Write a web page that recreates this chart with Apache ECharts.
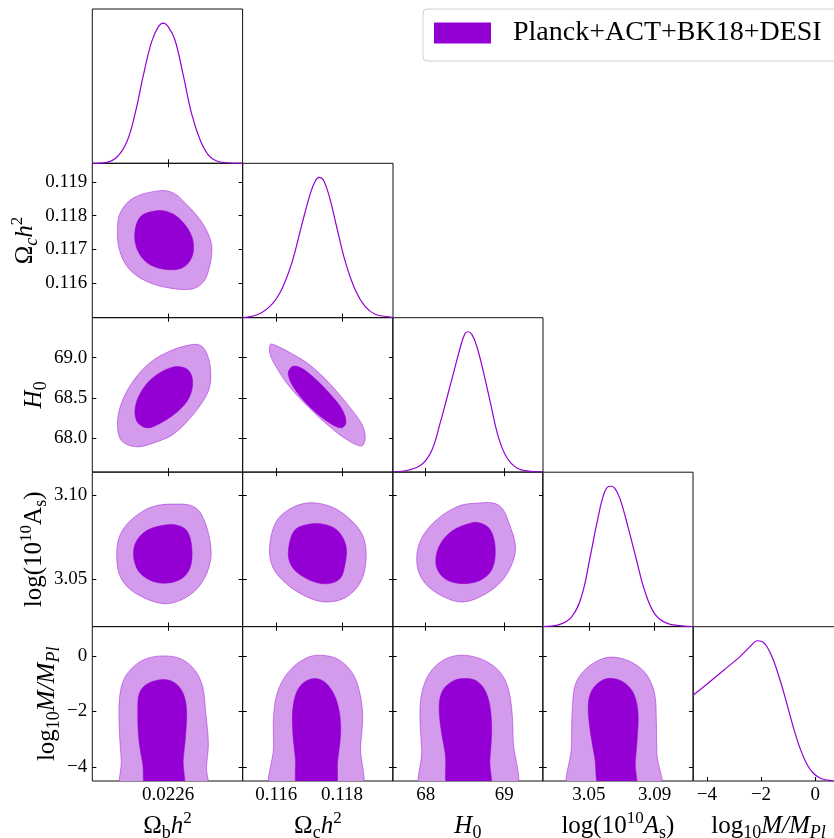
<!DOCTYPE html>
<html><head><meta charset="utf-8">
<script src="https://cdn.jsdelivr.net/npm/echarts@6/dist/echarts.min.js"></script>
<style>html,body{margin:0;padding:0;background:#fff}#c{width:834px;height:838px}</style>
</head><body><div id="c"></div>
<script>
const NAME = 'Planck+ACT+BK18+DESI';

// parameter axis ranges (same for column x and row y)
const rangeObh2 = [0.022398, 0.022798];
const rangeOmch2 = [0.11498, 0.11955];
const rangeH0 = [67.58, 69.495];
const rangeAs = [3.0218, 3.1134];
const rangeM = [-4.5, 1.05];

// tick values
const colTicks = [[0.0226], [0.116, 0.118], [68, 69], [3.05, 3.09], [-4, -2, 0]];
const rowTicks = [[], [0.116, 0.117, 0.118, 0.119], [68.0, 68.5, 69.0], [3.05, 3.10], [-4, -2, 0]];
const colDecimals = [4, 3, 0, 2, 0];
const rowDecimals = [0, 3, 1, 2, 0];

// 1D marginal posteriors (normalised to peak 1)
const pdf_obh2 = [[0.022398,0],[0.022436,0.007],[0.022463,0.043],[0.02249,0.154],[0.022512,0.356],[0.022534,0.629],[0.022556,0.867],[0.022574,0.974],[0.022587,1.0],[0.0226,0.974],[0.022618,0.879],[0.02264,0.629],[0.022662,0.356],[0.022685,0.166],[0.022707,0.059],[0.022729,0.016],[0.022756,0.004],[0.022798,0]];
const pdf_omch2 = [[0.11498,0],[0.115476,0.026],[0.115879,0.098],[0.116182,0.209],[0.116485,0.399],[0.116788,0.672],[0.117039,0.886],[0.117191,0.976],[0.117312,1.0],[0.117445,0.976],[0.117615,0.862],[0.117848,0.637],[0.1181,0.399],[0.118403,0.197],[0.118706,0.078],[0.119009,0.024],[0.119415,0.005],[0.11955,0]];
const pdf_H0 = [[67.58,0],[67.784,0.014],[67.953,0.055],[68.08,0.157],[68.186,0.352],[68.258,0.501],[68.356,0.708],[68.44,0.886],[68.496,0.981],[68.538,1.0],[68.589,0.981],[68.653,0.893],[68.738,0.708],[68.822,0.501],[68.929,0.245],[69.034,0.103],[69.162,0.029],[69.331,0.005],[69.495,0]];
const pdf_As = [[3.0218,0],[3.03136,0.012],[3.03946,0.069],[3.04555,0.218],[3.05085,0.504],[3.05469,0.73],[3.05877,0.933],[3.06181,0.998],[3.06322,1.0],[3.06547,0.99],[3.06888,0.912],[3.074,0.70],[3.07862,0.49],[3.0841,0.25],[3.09019,0.088],[3.09732,0.024],[3.10645,0.005],[3.1134,0]];
const pdf_M = [[-4.5,0.613],[-4.0,0.690],[-3.391,0.788],[-2.774,0.887],[-2.405,0.958],[-2.135,1.0],[-1.936,0.991],[-1.766,0.953],[-1.544,0.862],[-1.297,0.72],[-1.049,0.554],[-0.806,0.383],[-0.558,0.233],[-0.311,0.121],[-0.067,0.055],[0.18,0.021],[0.428,0.007],[0.697,0.0],[1.05,0]];

// 2D contours [x, y] (95% and 68%)
const ct_omch2_obh2_95 = [[0.022578,0.118739],[0.022507,0.118522],[0.022472,0.118077],[0.022465,0.117581],[0.022470,0.116988],[0.022494,0.116445],[0.022543,0.116047],[0.022605,0.115852],[0.022662,0.115822],[0.022689,0.115979],[0.022704,0.116246],[0.022716,0.116890],[0.022711,0.117335],[0.022685,0.117878],[0.022645,0.118374],[0.022614,0.118670]];
const ct_omch2_obh2_68 = [[0.022569,0.118145],[0.022529,0.117997],[0.022512,0.117581],[0.022516,0.117038],[0.022543,0.116611],[0.022587,0.116415],[0.022636,0.116445],[0.022662,0.116742],[0.022667,0.117187],[0.022653,0.117602],[0.022623,0.117976],[0.022596,0.118124]];
const ct_H0_obh2_95 = [[0.022662,69.161],[0.022605,69.082],[0.022552,68.938],[0.022507,68.710],[0.022476,68.442],[0.022465,68.173],[0.022476,67.967],[0.022516,67.892],[0.022565,67.947],[0.022614,68.050],[0.022667,68.297],[0.022707,68.586],[0.022713,68.834],[0.022702,69.062],[0.022685,69.152]];
const ct_H0_obh2_68 = [[0.022614,68.884],[0.022565,68.772],[0.022532,68.607],[0.022513,68.400],[0.022516,68.214],[0.022543,68.128],[0.022578,68.182],[0.022627,68.338],[0.022656,68.504],[0.022665,68.710],[0.022651,68.855]];
const ct_As_obh2_95 = [[0.022631,3.09448],[0.022560,3.09306],[0.022507,3.08618],[0.022472,3.07627],[0.022463,3.0634],[0.022474,3.05059],[0.022512,3.0417],[0.022587,3.03535],[0.022645,3.03873],[0.022689,3.04763],[0.022713,3.06145],[0.022709,3.07527],[0.022689,3.08814],[0.022667,3.09306]];
const ct_As_obh2_68 = [[0.022596,3.0822],[0.022543,3.07883],[0.022513,3.07135],[0.022509,3.06145],[0.022529,3.05255],[0.022578,3.04763],[0.022631,3.0496],[0.022658,3.05652],[0.022663,3.06839],[0.022651,3.07823],[0.022627,3.08179]];
const ct_M_obh2_95 = [[0.022480,-4.9],[0.022475,-3.752],[0.022470,-2.673],[0.022470,-1.594],[0.022481,-0.874],[0.022507,-0.396],[0.022543,-0.094],[0.022591,0.0],[0.022636,-0.119],[0.022671,-0.514],[0.022692,-1.115],[0.022700,-2.072],[0.022707,-3.151],[0.022702,-3.993],[0.022700,-4.9]];
const ct_M_obh2_68 = [[0.022545,-4.9],[0.022532,-3.870],[0.022522,-3.032],[0.022519,-2.072],[0.022523,-1.352],[0.022543,-1.018],[0.022585,-0.849],[0.022618,-0.971],[0.022640,-1.352],[0.022649,-1.953],[0.022646,-2.914],[0.022640,-3.752],[0.022637,-4.9]];
const ct_H0_omch2_95 = [[0.115827,69.165],[0.115797,69.062],[0.115979,68.896],[0.116385,68.648],[0.116991,68.380],[0.117597,68.152],[0.118203,67.967],[0.118606,67.905],[0.118706,68.009],[0.118606,68.173],[0.118203,68.400],[0.117597,68.690],[0.116991,68.917],[0.116385,69.069],[0.115979,69.152]];
const ct_H0_omch2_68 = [[0.116485,68.888],[0.116364,68.793],[0.116567,68.607],[0.117039,68.380],[0.117597,68.195],[0.117979,68.128],[0.118121,68.195],[0.118000,68.359],[0.117645,68.545],[0.117142,68.752],[0.116736,68.876]];
const ct_As_omch2_95 = [[0.116991,3.09525],[0.116385,3.09128],[0.115979,3.08339],[0.115797,3.06856],[0.115900,3.0567],[0.116333,3.0468],[0.116939,3.03932],[0.117494,3.03636],[0.118100,3.03891],[0.118554,3.0478],[0.118727,3.06068],[0.118657,3.0745],[0.118303,3.0844],[0.117697,3.0927]];
const ct_As_omch2_68 = [[0.117091,3.0828],[0.116585,3.07942],[0.116385,3.06957],[0.116415,3.05967],[0.116736,3.05237],[0.117394,3.0472],[0.117918,3.0498],[0.118100,3.05967],[0.118121,3.06957],[0.117900,3.07805],[0.117545,3.0820]];
const ct_M_omch2_95 = [[0.115888,-4.9],[0.115918,-3.273],[0.115918,-2.194],[0.116039,-1.295],[0.116373,-0.576],[0.116879,-0.094],[0.117333,0.025],[0.117888,-0.129],[0.118324,-0.633],[0.118545,-1.352],[0.118627,-2.194],[0.118566,-3.273],[0.118524,-4.9]];
const ct_M_omch2_68 = [[0.116706,-4.9],[0.116576,-3.633],[0.116494,-2.554],[0.116524,-1.712],[0.116706,-1.115],[0.117030,-0.838],[0.117385,-0.874],[0.117688,-1.234],[0.117888,-1.834],[0.117960,-2.673],[0.117870,-3.752],[0.117736,-4.9]];
const ct_As_H0_95 = [[68.716,3.09525],[68.420,3.0933],[68.122,3.0844],[67.931,3.07254],[67.889,3.05866],[67.987,3.0478],[68.207,3.03992],[68.462,3.03636],[68.716,3.03992],[68.949,3.0478],[69.089,3.05771],[69.145,3.0690],[69.060,3.0835],[68.975,3.0920],[68.865,3.09508]];
const ct_As_H0_68 = [[68.589,3.08339],[68.335,3.07847],[68.173,3.06957],[68.131,3.05866],[68.229,3.05077],[68.420,3.0474],[68.674,3.0488],[68.844,3.0557],[68.886,3.06856],[68.822,3.07942],[68.695,3.0832]];
const ct_M_H0_95 = [[67.962,-4.9],[67.949,-3.392],[67.927,-2.194],[67.949,-1.352],[68.046,-0.633],[68.224,-0.155],[68.436,0.025],[68.691,-0.094],[68.903,-0.453],[69.031,-0.993],[69.094,-1.834],[69.115,-3.032],[69.123,-4.9]];
const ct_M_H0_68 = [[68.309,-4.9],[68.249,-3.511],[68.191,-2.554],[68.173,-1.712],[68.224,-1.209],[68.351,-0.899],[68.487,-0.813],[68.649,-0.899],[68.767,-1.295],[68.827,-1.953],[68.840,-2.852],[68.818,-3.752],[68.805,-4.9]];
const ct_M_As_95 = [[3.03867,-4.9],[3.03928,-3.273],[3.03989,-1.834],[3.0419,-0.993],[3.04842,-0.453],[3.05853,-0.094],[3.06705,-0.058],[3.0768,-0.252],[3.08496,-0.658],[3.09,-1.352],[3.09105,-2.313],[3.09141,-3.511],[3.09263,-4.9]];
const ct_M_As_68 = [[3.05755,-4.9],[3.05347,-3.633],[3.05043,-2.554],[3.04963,-1.712],[3.05207,-1.209],[3.05816,-0.874],[3.06462,-0.813],[3.07174,-0.971],[3.07722,-1.352],[3.07984,-2.014],[3.07948,-2.914],[3.07826,-3.870],[3.07783,-4.9]];

// ---------- assembly ----------
const FONT = "'Liberation Serif','Times New Roman',serif";
const ranges = [rangeObh2, rangeOmch2, rangeH0, rangeAs, rangeM];
const pdfs = [pdf_obh2, pdf_omch2, pdf_H0, pdf_As, pdf_M];
const contours = {
  '1,0': [ct_omch2_obh2_95, ct_omch2_obh2_68],
  '2,0': [ct_H0_obh2_95, ct_H0_obh2_68],
  '3,0': [ct_As_obh2_95, ct_As_obh2_68],
  '4,0': [ct_M_obh2_95, ct_M_obh2_68],
  '2,1': [ct_H0_omch2_95, ct_H0_omch2_68],
  '3,1': [ct_As_omch2_95, ct_As_omch2_68],
  '4,1': [ct_M_omch2_95, ct_M_omch2_68],
  '3,2': [ct_As_H0_95, ct_As_H0_68],
  '4,2': [ct_M_H0_95, ct_M_H0_68],
  '4,3': [ct_M_As_95, ct_M_As_68]
};
const colNames = [
  '{r|Ω}{sub|b}{i|h}{sup|2}',
  '{r|Ω}{sub|c}{i|h}{sup|2}',
  '{i|H}{sub|0}',
  '{r|log(10}{sup|10}{i|A}{sub|s}{r|)}',
  '{r|log}{sub|10}{i|M/M}{isub|Pl}'
];
const rowNames = [
  '',
  '{r|Ω}{isub|c}{i|h}{sup|2}',
  '{i|H}{sub|0}',
  '{r|log(10}{sup|10}{r|A}{sub|s}{r|)}',
  '{r|log}{sub|10}{i|M/M}{isub|Pl}'
];
const rowNameGap = [0, 50, 37, 38, 28];

const colLeft = [92.3, 242.7, 392.7, 542.7, 693.3];
const rowTop = [9, 163.3, 317.7, 472.2, 626.7];
const CW = 150.3, RH = 154.3;

const DARK = '#9400d3';
const LIGHT = '#d49aeb';

const rich = {
  r: {fontFamily: FONT, fontSize: 25, lineHeight: 32, color: '#000'},
  i: {fontFamily: FONT, fontSize: 25, lineHeight: 32, fontStyle: 'italic', color: '#000'},
  sub: {fontFamily: FONT, fontSize: 18, lineHeight: 24, verticalAlign: 'bottom', color: '#000'},
  isub: {fontFamily: FONT, fontSize: 18, lineHeight: 24, verticalAlign: 'bottom', fontStyle: 'italic', color: '#000'},
  sup: {fontFamily: FONT, fontSize: 17, lineHeight: 14, verticalAlign: 'top', color: '#000'}
};

function fmt(d) {
  return function (v) {
    const s = Math.abs(v).toFixed(d);
    return (v < -1e-12 ? '\u2212' : '') + s;
  };
}
function makePoly(points, fill, stroke, lw) {
  return function (params, api) {
    if (params.dataIndex !== 0) return null;
    const pts = points.map(p => api.coord(p));
    return {type: 'polygon', shape: {points: pts, smooth: 0.35},
      style: {fill: fill, stroke: stroke, lineWidth: lw}};
  };
}

const grids = [], xAxes = [], yAxes = [], series = [];
const tickStyle = {color: '#000', width: 1};
const labelBase = {fontFamily: FONT, fontSize: 19, color: '#000'};
const lineSeries = [];
const noLine = {show: false, onZero: false};

for (let r = 0; r < 5; r++) {
  for (let c = 0; c <= r; c++) {
    const g = grids.length;
    const diag = r === c;
    grids.push({left: colLeft[c], top: rowTop[r], width: CW, height: RH,
      show: true, borderColor: '#111', borderWidth: 1, backgroundColor: 'transparent',
      containLabel: false, outerBoundsMode: 'none'});
    const xi = xAxes.length;
    xAxes.push({type: 'value', gridIndex: g, position: 'bottom', min: ranges[c][0], max: ranges[c][1],
      axisLine: noLine, splitLine: {show: false},
      axisTick: {show: true, inside: true, length: 4, customValues: colTicks[c], lineStyle: tickStyle},
      axisLabel: Object.assign({show: r === 4, customValues: colTicks[c], formatter: fmt(colDecimals[c]), margin: 5, hideOverlap: false}, labelBase),
      name: r === 4 ? colNames[c] : '', nameLocation: 'middle', nameGap: 29,
      nameTextStyle: {fontFamily: FONT, fontSize: 25, color: '#000', rich: rich}});
    if (!diag) {
      xAxes.push({type: 'value', gridIndex: g, position: 'top', min: ranges[c][0], max: ranges[c][1],
        axisLine: noLine, splitLine: {show: false},
        axisTick: {show: true, inside: true, length: 4, customValues: colTicks[c], lineStyle: tickStyle},
        axisLabel: {show: false}});
    }
    const yi = yAxes.length;
    if (diag) {
      yAxes.push({type: 'value', gridIndex: g, min: 0, max: 1.1, axisLine: noLine,
        splitLine: {show: false}, axisTick: {show: false}, axisLabel: {show: false}});
    } else {
      yAxes.push({type: 'value', gridIndex: g, position: 'left', min: ranges[r][0], max: ranges[r][1],
        axisLine: noLine, splitLine: {show: false},
        axisTick: {show: true, inside: true, length: 4, customValues: rowTicks[r], lineStyle: tickStyle},
        axisLabel: Object.assign({show: c === 0, customValues: rowTicks[r], formatter: fmt(rowDecimals[r]), margin: 5}, labelBase),
        name: c === 0 ? rowNames[r] : '', nameLocation: 'middle', nameGap: rowNameGap[r],
        nameTextStyle: {fontFamily: FONT, fontSize: 25, color: '#000', rich: rich}});
      yAxes.push({type: 'value', gridIndex: g, position: 'right', min: ranges[r][0], max: ranges[r][1],
        axisLine: noLine, splitLine: {show: false},
        axisTick: {show: true, inside: true, length: 4, customValues: rowTicks[r], lineStyle: tickStyle},
        axisLabel: {show: false}});
    }
    if (diag) {
      lineSeries.push({type: 'line', name: 'pdf' + r, xAxisIndex: xi, yAxisIndex: yi, data: pdfs[r],
        showSymbol: false, smooth: 0.4, silent: true,
        lineStyle: {color: DARK, width: 1.2}, itemStyle: {color: DARK}, z: 3});
    } else {
      const ct = contours[r + ',' + c];
      series.push({type: 'custom', name: NAME, xAxisIndex: xi, yAxisIndex: yi, data: ct[0], clip: true, silent: true,
        itemStyle: {color: DARK}, renderItem: makePoly(ct[0], LIGHT, 'rgba(148,0,211,0.55)', 0.8), z: 2});
      series.push({type: 'custom', name: NAME, xAxisIndex: xi, yAxisIndex: yi, data: ct[1], clip: true, silent: true,
        itemStyle: {color: DARK}, renderItem: makePoly(ct[1], DARK, DARK, 0.5), z: 3});
    }
  }
}

const option = {
  animation: false,
  backgroundColor: '#fff',
  textStyle: {fontFamily: FONT},
  legend: {
    show: true, left: 423, top: 9, orient: 'horizontal', selectedMode: false,
    data: [{name: NAME, icon: 'rect', itemStyle: {color: DARK}}],
    itemWidth: 57, itemHeight: 21,
    padding: [10, 20, 14, 11],
    borderColor: '#d0d0d0', borderWidth: 1, borderRadius: 4, backgroundColor: '#fff',
    textStyle: {fontFamily: FONT, fontSize: 28, lineHeight: 24, color: '#000', padding: [0, 0, 0, 17]}
  },
  grid: grids, xAxis: xAxes, yAxis: yAxes,
  series: series.concat(lineSeries)
};

const chart = echarts.init(document.getElementById('c'), null, {renderer: 'canvas'});
chart.setOption(option);
</script></body></html>
